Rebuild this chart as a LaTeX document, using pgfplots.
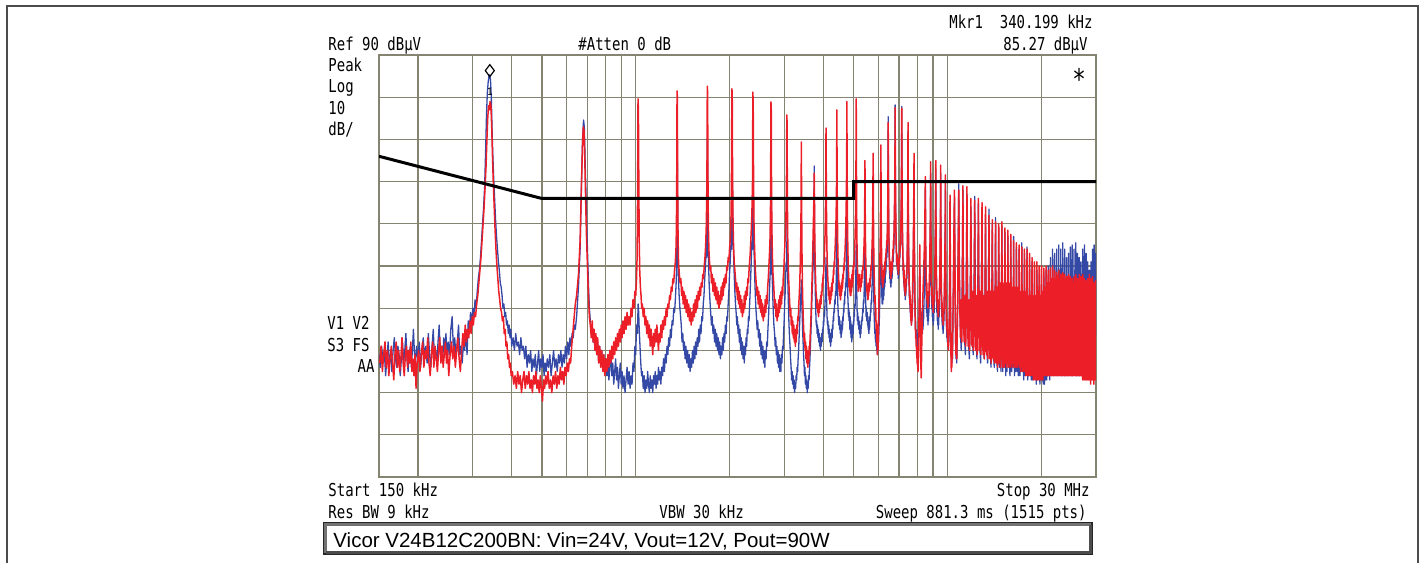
\documentclass[border=0pt]{standalone}
\usepackage{fontspec}
\setmainfont{Liberation Sans}
\setmonofont{DejaVu Sans Mono}
\usepackage{graphicx}
\usepackage{pgfplots}
\pgfplotsset{compat=1.18}

\definecolor{tblue}{RGB}{52,72,165}
\definecolor{tred}{RGB}{236,30,40}
\definecolor{gridc}{RGB}{132,132,112}

% analyzer screen text: narrow mono, stretched a little in height
\newcommand{\sa}[1]{\scalebox{1}[1.27]{\fontsize{7}{8}\selectfont\ttfamily #1}}

\begin{document}
\begin{tikzpicture}
\useasboundingbox (0,0) rectangle (712pt,-281.5pt);

\begin{axis}[
    at={(189.5pt,-27.5pt)}, anchor=north west,
    width=358.5pt, height=211pt, scale only axis,
    xmode=log, xmin=0.15, xmax=30, ymin=-10, ymax=90,
    xtick={0.2,0.3,0.4,0.5,0.6,0.7,0.8,0.9,1,2,3,4,5,6,7,8,9,10,20},
    ytick={0,10,20,30,40,50,60,70,80},
    xticklabels={}, yticklabels={},
    major tick length=0pt,
    grid=major,
    major grid style={gridc, line width=0.6pt},
    axis line style={gridc, line width=0.8pt},
    clip=true]

% trace 2 (blue)
\addplot[tblue, line width=0.65pt, line join=round] coordinates {
(0.1500,19)(0.1515,16)(0.1530,21)(0.1545,17)(0.1560,20)(0.1575,14)(0.1590,18)(0.1605,22)(0.1620,17)(0.1635,19)
(0.1650,15)(0.1665,20)(0.1680,23)(0.1695,18)(0.1710,16)(0.1725,21)(0.1740,19)(0.1755,14)(0.1770,18)(0.1785,22)
(0.1800,17)(0.1815,20)(0.1830,24)(0.1845,18)(0.1860,15)(0.1875,19)(0.1890,21)(0.1905,16)(0.1920,20)(0.1935,25)
(0.1950,19)(0.1965,17)(0.1980,21)(0.2000,18)(0.2020,22)(0.2040,16)(0.2060,20)(0.2080,23)(0.2100,18)(0.2120,21)
(0.2140,17)(0.2160,24)(0.2180,19)(0.2200,16)(0.2220,21)(0.2240,25)(0.2260,18)(0.2280,20)(0.2300,17)(0.2320,22)
(0.2340,26)(0.2360,19)(0.2380,21)(0.2400,17)(0.2420,23)(0.2440,20)(0.2460,24)(0.2480,18)(0.2500,22)(0.2525,19)
(0.2550,25)(0.2575,28)(0.2600,20)(0.2625,23)(0.2650,18)(0.2675,22)(0.2700,26)(0.2725,19)(0.2750,21)(0.2775,17)
(0.2800,22)(0.2825,20)(0.2850,25)(0.2875,19)(0.2900,27)(0.2925,24)(0.2950,29)(0.2975,26)(0.3000,30)
(0.3025,28)(0.3050,32)(0.3075,30)(0.3100,34)(0.3125,37)(0.3150,39)(0.3175,42)(0.3200,46)(0.3225,50)(0.3250,54)
(0.3275,59)(0.3300,68)(0.3320,76)(0.3340,81)(0.3360,83.5)(0.3380,85)(0.3400,85.3)(0.3420,84)(0.3440,80)(0.3460,72)
(0.3480,66)(0.3500,61)(0.3525,56)(0.3550,51)(0.3575,47)(0.3600,44)(0.3625,41)(0.3650,39)(0.3675,36)(0.3700,35)
(0.3725,33)(0.3750,30)(0.3775,31)(0.3800,28)(0.3825,29)(0.3850,26)(0.3875,27)(0.3900,24)(0.3925,26)(0.3950,23)
(0.3975,25)(0.4000,21)
(0.4040,23)(0.4080,20)(0.4120,24)(0.4160,21)(0.4200,22)(0.4240,19)(0.4280,23)(0.4320,20)(0.4360,21)(0.4400,18)
(0.4440,21)(0.4480,16)(0.4520,19)(0.4560,17)(0.4600,20)(0.4640,15)(0.4680,18)(0.4720,16)(0.4760,19)(0.4800,14)
(0.4840,17)(0.4880,20)(0.4920,15)(0.4960,18)(0.5000,16)(0.5040,19)(0.5080,14)(0.5120,17)(0.5160,15)(0.5200,18)
(0.5250,16)(0.5300,19)(0.5350,14)(0.5400,17)(0.5450,20)(0.5500,16)(0.5550,18)(0.5600,15)(0.5650,19)(0.5700,17)
(0.5750,20)(0.5800,16)(0.5850,19)(0.5900,17)(0.5950,21)(0.6000,18)(0.6050,22)(0.6100,19)(0.6150,23)(0.6200,21)
(0.6250,24)(0.6300,23)(0.6350,26)
(0.6400,25)(0.6460,28)(0.6550,35)(0.6630,44)(0.6700,60)(0.6750,70)(0.6800,74.6)(0.6840,73)(0.6880,65)(0.6920,58)
(0.6960,50)(0.7000,44)(0.7050,36)(0.7100,30)(0.7150,27)
(0.7200,24)(0.7250,26)(0.7300,22)(0.7350,24)(0.7400,20)(0.7450,23)(0.7500,19)(0.7550,22)(0.7600,18)(0.7660,21)
(0.7720,17)(0.7780,20)(0.7840,16)(0.7900,19)(0.7960,15)(0.8020,18)(0.8080,14)(0.8140,17)(0.8200,13)(0.8260,16)
(0.8320,19)(0.8380,14)(0.8440,17)(0.8500,12)(0.8560,15)(0.8620,18)(0.8680,13)(0.8740,16)(0.8800,11)(0.8860,14)
(0.8920,17)(0.8980,12)(0.9040,15)(0.9100,11)(0.9170,14)(0.9240,10)(0.9310,13)(0.9380,16)(0.9450,12)(0.9520,15)
(0.9590,11)(0.9660,14)(0.9730,12)(0.9800,17)(0.9870,15)(0.9940,21)(1.0000,19)(1.0060,26)(1.0120,24)(1.0180,31)
(1.0220,29)(1.0260,25)(1.0320,21)(1.0380,17)(1.0440,14)
(1.050,15)(1.057,11)(1.064,14)(1.071,10)(1.078,13)(1.085,11)(1.092,15)(1.099,12)(1.106,10)(1.113,14)
(1.120,11)(1.127,13)(1.134,10)(1.141,14)(1.148,12)(1.155,15)(1.162,11)(1.169,14)(1.176,12)(1.183,16)
(1.190,13)(1.197,15)(1.204,12)(1.212,16)(1.220,14)(1.228,18)(1.236,15)(1.244,19)(1.252,17)(1.260,21)
(1.268,19)(1.276,23)(1.284,21)(1.292,25)(1.300,23)(1.308,27)(1.316,26)(1.324,30)(1.332,29)(1.340,32)
(1.348,36)(1.353,40)(1.356,51)(1.359,68)(1.362,58)(1.365,46)(1.370,38)(1.378,33)(1.386,30)(1.393,28)
(1.400,26)(1.408,22)(1.416,24)(1.424,20)(1.432,22)(1.440,18)(1.449,21)(1.458,17)(1.467,20)(1.476,16)
(1.485,19)(1.494,15)(1.503,18)(1.512,16)(1.521,20)(1.530,17)(1.539,21)(1.548,18)(1.557,22)(1.566,19)
(1.575,23)(1.584,21)(1.593,25)(1.602,22)(1.611,26)(1.620,24)(1.629,28)(1.638,27)(1.647,31)(1.656,33)
(1.665,37)(1.674,40)(1.682,44)(1.689,42)(1.694,55)(1.698,70.3)(1.702,62)(1.706,48)(1.712,41)(1.720,36)
(1.730,32)
(1.740,29)(1.750,26)(1.760,28)(1.770,24)(1.780,26)(1.790,22)(1.800,25)(1.810,21)(1.820,24)(1.830,20)
(1.840,23)(1.850,19)(1.860,22)(1.870,18)(1.880,21)(1.890,19)(1.900,23)(1.910,20)(1.920,24)(1.930,22)
(1.940,26)(1.950,24)(1.960,28)(1.970,27)(1.980,31)(1.990,34)(2.000,38)(2.010,41)(2.020,45)(2.030,44)
(2.036,52)(2.040,64)(2.044,56)(2.050,47)(2.060,43)(2.070,38)(2.080,34)(2.090,31)
(2.100,29)(2.110,26)(2.120,28)(2.130,24)(2.140,26)(2.150,22)(2.160,25)(2.170,20)(2.180,23)(2.190,19)
(2.200,22)(2.210,18)(2.220,21)(2.230,17)(2.240,21)(2.250,19)(2.260,23)(2.270,21)(2.280,25)(2.290,24)
(2.300,28)(2.310,27)(2.320,31)(2.330,34)(2.340,38)(2.350,42)(2.360,46)(2.370,44)(2.376,52)(2.380,65.6)
(2.384,57)(2.390,47)(2.400,42)(2.410,37)(2.420,33)(2.430,30)
(2.440,28)(2.452,25)(2.464,27)(2.476,23)(2.488,25)(2.500,21)(2.512,24)(2.524,19)(2.536,22)(2.548,18)
(2.560,21)(2.572,17)(2.584,20)(2.596,16)(2.608,20)(2.620,18)(2.632,22)(2.644,21)(2.656,25)(2.668,28)
(2.680,32)(2.692,36)(2.704,40)(2.712,38)(2.716,50)(2.720,64)(2.724,56)(2.730,44)(2.740,38)(2.752,33)
(2.764,29)(2.776,26)
(2.790,24)(2.802,21)(2.814,23)(2.826,19)(2.838,21)(2.850,17)(2.862,20)(2.874,16)(2.886,19)(2.898,15)
(2.910,18)(2.922,15)(2.934,19)(2.946,17)(2.958,21)(2.970,20)(2.982,24)(2.994,27)(3.006,31)(3.018,34)
(3.030,38)(3.040,41)(3.050,39)(3.056,46)(3.060,53)(3.064,47)(3.070,40)(3.080,35)(3.092,30)(3.104,26)
(3.116,23)
(3.128,21)(3.140,18)(3.152,16)(3.164,13)(3.176,15)(3.188,12)(3.200,14)(3.212,11)(3.224,13)(3.236,10)
(3.248,12)(3.260,11)(3.272,14)(3.284,13)(3.296,16)(3.308,15)(3.320,18)(3.332,20)(3.344,23)(3.356,26)
(3.368,29)(3.380,32)(3.392,34)(3.400,36.7)(3.408,33)(3.420,29)(3.432,25)(3.444,22)(3.456,19)(3.468,17)
(3.480,14)(3.492,16)(3.504,12)(3.516,14)(3.528,11)(3.540,13)(3.552,10)(3.564,12)(3.576,11)(3.588,14)
(3.600,13)(3.612,16)(3.624,18)(3.636,21)(3.648,24)(3.660,27)(3.672,31)(3.684,34)(3.696,37)(3.708,40)
(3.720,43)(3.730,47)(3.736,55)(3.740,63.7)(3.744,55)(3.750,45)(3.760,38)(3.772,33)(3.784,29)(3.796,26)
(3.808,27)(3.820,24)(3.832,26)(3.844,23)(3.856,25)(3.868,22)(3.880,24)(3.892,21)(3.904,23)(3.916,20)
(3.928,23)(3.940,21)(3.952,24)(3.964,22)(3.976,25)(3.988,24)(4.000,27)(4.012,26)(4.024,29)(4.036,28)
(4.048,31)(4.060,33)(4.070,36)(4.080,42)(4.090,35)(4.100,31)(4.112,28)(4.124,26)
(4.136,27)(4.148,24)(4.160,26)(4.172,23)(4.184,25)(4.196,22)(4.208,24)(4.220,21)(4.232,24)(4.244,22)
(4.256,25)(4.268,23)(4.280,26)(4.292,25)(4.304,28)(4.316,27)(4.328,30)(4.340,29)(4.352,32)(4.364,31)
(4.376,34)(4.388,33)(4.400,37)(4.410,41)(4.416,46)(4.420,52.6)(4.424,47)(4.430,40)(4.440,35)(4.452,31)
(4.464,29)(4.476,27)
(4.488,26)(4.500,28)(4.512,25)(4.524,27)(4.536,24)(4.548,26)(4.560,23)(4.572,26)(4.584,24)(4.596,27)
(4.608,25)(4.620,28)(4.632,27)(4.644,30)(4.656,29)(4.668,32)(4.680,31)(4.692,34)(4.704,33)(4.716,36)
(4.728,35)(4.740,39)(4.750,42)(4.756,48)(4.760,53)(4.764,47)(4.770,41)(4.780,37)(4.792,33)(4.804,31)
(4.816,28)
(4.828,30)(4.840,27)(4.852,29)(4.864,25)(4.876,28)(4.888,24)(4.900,27)(4.912,23)(4.924,26)(4.936,22)
(4.948,25)(4.960,23)(4.972,26)(4.984,24)(4.996,27)(5.008,26)(5.020,29)(5.032,28)(5.044,31)(5.056,30)
(5.068,33)(5.080,36)(5.090,40)(5.100,45)(5.110,39)(5.120,34)(5.132,30)(5.144,27)
(5.156,29)(5.170,26)(5.184,28)(5.198,25)(5.212,27)(5.226,24)(5.240,26)(5.254,23)(5.268,25)(5.282,24)
(5.296,27)(5.310,26)(5.324,28)(5.338,27)(5.352,30)(5.366,29)(5.380,32)(5.394,31)(5.408,34)(5.420,37)
(5.430,42)(5.440,50)(5.450,41)(5.460,35)(5.474,31)(5.488,28)
(5.502,30)(5.516,27)(5.530,29)(5.544,26)(5.558,28)(5.572,25)(5.586,27)(5.600,24)(5.614,27)(5.628,25)
(5.642,28)(5.656,27)(5.670,30)(5.684,29)(5.698,32)(5.712,31)(5.726,34)(5.740,36)(5.752,39)(5.764,44)
(5.772,48)(5.780,52)(5.788,44)(5.798,37)(5.810,32)(5.824,28)
(5.838,26)(5.852,24)(5.866,25)(5.880,22)(5.894,24)(5.908,21)(5.922,23)(5.936,20)(5.950,22)(5.964,19)
(5.978,21)(5.992,20)(6.006,23)(6.020,22)(6.034,25)(6.048,27)(6.062,30)(6.076,33)(6.090,37)(6.100,42)
(6.110,50)(6.120,60)(6.128,50)(6.138,42)(6.150,37)(6.164,33)
(6.178,31)(6.192,34)(6.206,31)(6.220,35)(6.234,32)(6.248,36)(6.262,33)(6.276,37)(6.290,35)(6.304,38)
(6.318,36)(6.332,40)(6.346,38)(6.360,41)(6.374,40)(6.388,43)(6.402,42)(6.416,45)(6.430,48)(6.440,53)
(6.450,63)(6.460,75.4)(6.470,62)(6.480,52)(6.492,46)(6.506,42)
(6.520,40)(6.534,37)(6.548,39)(6.562,36)(6.576,38)(6.590,35)(6.604,37)(6.618,36)(6.632,39)(6.646,37)
(6.660,40)(6.674,39)(6.688,42)(6.702,41)(6.716,44)(6.730,43)(6.744,46)(6.760,50)(6.776,55)(6.790,65)
(6.800,78.2)(6.810,64)(6.822,55)(6.836,49)(6.850,45)
(6.864,43)(6.878,40)(6.892,42)(6.906,39)(6.920,41)(6.934,38)(6.948,40)(6.962,37)(6.976,40)(6.990,38)
(7.004,41)(7.018,40)(7.032,43)(7.046,42)(7.060,45)(7.074,44)(7.088,47)(7.104,51)(7.120,58)(7.130,66)
(7.140,77.8)(7.150,65)(7.162,55)(7.176,48)(7.190,44)
(7.204,41)(7.218,38)(7.232,40)(7.246,36)(7.260,38)(7.274,34)(7.288,36)(7.302,33)(7.316,35)(7.330,32)
(7.344,35)(7.358,33)(7.372,36)(7.386,35)(7.400,38)(7.414,37)(7.428,40)(7.442,44)(7.456,49)(7.468,58)
(7.480,72)(7.490,58)(7.502,48)(7.516,42)(7.530,38)
(7.544,35)(7.558,32)(7.572,34)(7.586,30)(7.600,32)(7.614,28)(7.628,30)(7.642,27)(7.656,29)(7.670,26)
(7.684,28)(7.698,27)(7.712,30)(7.726,29)(7.740,32)(7.754,34)(7.768,37)(7.784,42)(7.800,50)(7.810,56)
(7.820,63)(7.830,52)(7.842,42)(7.856,36)(7.870,31)
(7.884,28)(7.898,25)(7.912,27)(7.926,23)(7.940,25)(7.954,22)(7.968,24)(7.982,21)(7.996,23)(8.010,20)
(8.024,22)(8.038,21)(8.052,24)(8.066,23)(8.080,26)(8.094,25)(8.108,28)(8.122,30)(8.136,33)(8.150,37)
(8.160,40)(8.170,35)(8.184,31)(8.198,28)
(8.212,30)(8.228,27)(8.244,29)(8.260,26)(8.276,28)(8.292,25)(8.308,27)(8.324,24)(8.340,27)(8.356,25)
(8.372,28)(8.388,27)(8.404,30)(8.420,32)(8.436,35)(8.452,38)(8.468,42)(8.484,48)(8.500,58)(8.510,48)
(8.524,40)(8.540,35)
(8.556,32)(8.572,29)(8.588,31)(8.604,28)(8.620,30)(8.636,27)(8.652,29)(8.668,26)(8.684,29)(8.700,27)
(8.716,30)(8.732,29)(8.748,32)(8.764,34)(8.780,37)(8.796,41)(8.812,46)(8.828,53)(8.840,62)(8.850,52)
(8.864,43)(8.880,37)
(8.896,33)(8.912,30)(8.928,32)(8.944,28)(8.960,30)(8.976,27)(8.992,29)(9.008,26)(9.024,29)(9.040,27)
(9.056,30)(9.072,29)(9.088,32)(9.104,35)(9.120,38)(9.136,42)(9.152,47)(9.166,54)(9.180,63)(9.192,52)
(9.206,43)(9.222,37)
(9.238,32)(9.254,29)(9.270,31)(9.286,27)(9.302,29)(9.318,26)(9.334,28)(9.350,25)(9.366,28)(9.382,26)
(9.398,29)(9.414,28)(9.430,31)(9.446,34)(9.462,37)(9.478,41)(9.494,46)(9.508,53)(9.520,62)(9.532,51)
(9.546,42)(9.562,35)
(9.578,31)(9.594,28)(9.610,30)(9.626,26)(9.642,28)(9.658,25)(9.674,27)(9.690,24)(9.706,27)(9.722,25)
(9.738,28)(9.754,27)(9.770,30)(9.786,33)(9.802,37)(9.818,41)(9.834,46)(9.848,52)(9.860,60)(9.872,50)
(9.886,40)(9.902,33)
(9.918,28)(9.934,25)(9.950,27)(9.966,23)(9.982,25)(9.998,22)(10.02,24)(10.04,21)(10.06,23)(10.08,20)
(10.10,23)(10.12,22)(10.14,26)(10.16,31)(10.18,40)(10.20,55)(10.22,42)(10.24,30)(10.26,24)(10.28,20)
(10.30,18)(10.32,21)(10.34,17)(10.36,20)(10.38,18)(10.40,22)(10.42,25)(10.44,30)(10.47,38)(10.50,46)
(10.54,56)(10.57,42)(10.60,30)(10.63,22)(10.66,18)(10.69,21)(10.72,17)(10.75,22)(10.78,28)(10.81,36)
(10.84,45)(10.88,59.5)(10.91,44)
(10.96,32)(11.02,24)(11.08,20)(11.13,27)(11.16,36)
(11.22,58)(11.26,40)(11.31,29)(11.37,22)(11.43,19)(11.47,26)(11.50,37)
(11.56,57)(11.60,39)(11.65,28)(11.71,21)(11.77,18)(11.81,25)(11.85,35)
(11.90,54)(11.94,38)(11.99,27)(12.05,22)(12.11,19)(12.15,27)(12.19,38)
(12.24,56.5)(12.28,40)(12.33,28)(12.39,21)(12.45,18)(12.49,26)(12.53,37)
(12.58,55)(12.62,38)(12.67,27)(12.73,20)(12.79,17)(12.83,25)(12.87,36)
(12.92,53)(12.96,37)(13.01,26)(13.07,20)(13.13,18)(13.17,26)(13.21,35)
(13.26,52)(13.30,36)(13.35,25)(13.41,19)(13.47,17)(13.51,24)(13.55,35)
(13.60,53.5)(13.64,37)(13.69,26)(13.75,19)(13.81,16)(13.85,24)(13.89,34)
(13.94,50)(13.98,35)(14.03,25)(14.09,18)(14.15,16)(14.19,23)(14.23,33)
(14.28,51.5)(14.32,35)(14.37,24)(14.43,17)(14.49,15)(14.53,23)(14.57,32)
(14.62,49)(14.66,28)(14.72,16)(14.79,27)(14.86,15)(14.92,30)
(14.96,49.5)(15.00,29)(15.06,15)(15.13,26)(15.20,16)(15.26,31)
(15.30,48)(15.34,27)(15.40,14)(15.47,28)(15.54,15)(15.60,29)
(15.64,47)(15.68,28)(15.74,16)(15.81,26)(15.88,14)(15.94,30)
(15.98,46)(16.02,27)(16.08,15)(16.15,27)(16.22,16)(16.28,29)
(16.32,47)(16.36,28)(16.42,14)(16.49,26)(16.56,15)(16.62,30)
(16.66,44.5)(16.70,27)(16.76,15)(16.83,25)(16.90,14)(16.96,28)
(17.00,44)(17.04,26)(17.10,14)(17.17,27)(17.24,15)(17.30,29)
(17.34,45.5)(17.38,27)(17.44,15)(17.51,26)(17.58,13)(17.64,28)
(17.68,43)(17.72,26)(17.78,14)(17.85,25)(17.92,15)(17.98,29)
(18.02,44.5)(18.06,27)(18.12,13)(18.19,26)(18.26,14)(18.32,28)
(18.36,42)(18.40,25)(18.46,14)(18.53,27)(18.60,13)(18.66,27)
(18.70,41)(18.74,26)(18.80,13)(18.87,25)(18.94,14)(19.00,28)
(19.04,39)(19.08,25)(19.14,14)(19.21,26)(19.28,12)(19.34,27)
(19.38,39)(19.42,24)(19.48,13)(19.55,25)(19.62,14)(19.68,28)
(19.72,38)(19.76,25)(19.82,12)(19.89,26)(19.96,13)(20.02,27)
(20.06,38)(20.10,24)(20.16,13)(20.23,25)(20.30,12)(20.36,28)
(20.40,38.5)(20.44,25)(20.50,12)(20.57,26)(20.64,13)(20.70,29)
(20.74,39)(20.78,26)(20.84,13)(20.91,27)(20.98,14)(21.04,30)
(21.08,40)(21.12,27)(21.18,14)(21.25,28)(21.32,13)(21.38,31)
(21.42,42)(21.46,28)(21.52,15)(21.59,29)(21.66,14)(21.72,32)
(21.76,44)(21.80,29)(21.86,14)(21.93,30)(22.00,15)(22.06,33)
(22.10,43)(22.14,30)(22.20,15)(22.27,31)(22.34,14)(22.40,32)
(22.44,44)(22.48,31)(22.54,14)(22.61,30)(22.68,15)(22.74,33)
(22.78,45)(22.82,30)(22.88,15)(22.95,31)(23.02,14)(23.08,34)
(23.12,44)(23.16,31)(23.22,14)(23.29,30)(23.36,15)(23.42,33)
(23.46,45.5)(23.50,30)(23.56,15)(23.63,32)(23.70,14)(23.76,33)
(23.80,44)(23.84,31)(23.90,14)(23.97,30)(24.04,15)(24.10,32)
(24.14,42)(24.18,29)(24.24,15)(24.31,30)(24.38,14)(24.44,31)
(24.48,43)(24.52,30)(24.58,14)(24.65,29)(24.72,15)(24.78,32)
(24.82,44.5)(24.86,30)(24.92,15)(24.99,31)(25.06,14)(25.12,33)
(25.16,45)(25.20,31)(25.26,14)(25.33,30)(25.40,15)(25.46,33)
(25.50,44)(25.54,30)(25.60,15)(25.67,31)(25.74,14)(25.80,32)
(25.84,45.5)(25.88,31)(25.94,14)(26.01,30)(26.08,15)(26.14,33)
(26.18,43)(26.22,30)(26.28,15)(26.35,29)(26.42,14)(26.48,31)
(26.52,42)(26.56,29)(26.62,14)(26.69,30)(26.76,15)(26.82,31)
(26.86,41)(26.90,28)(26.96,15)(27.03,29)(27.10,14)(27.16,30)
(27.20,44)(27.24,29)(27.30,14)(27.37,30)(27.44,15)(27.50,32)
(27.54,45)(27.58,30)(27.64,15)(27.71,29)(27.78,14)(27.84,31)
(27.88,43)(27.92,29)(27.98,14)(28.05,30)(28.12,15)(28.18,30)
(28.22,41)(28.26,28)(28.32,15)(28.39,29)(28.46,14)(28.52,30)
(28.56,39)(28.60,28)(28.66,14)(28.73,28)(28.80,15)(28.86,31)
(28.90,41)(28.94,29)(29.00,15)(29.07,30)(29.14,14)(29.20,32)
(29.24,44)(29.28,30)(29.34,14)(29.41,31)(29.48,15)(29.54,33)
(29.58,45)(29.62,31)(29.68,15)(29.75,30)(29.82,14)(29.88,32)
(29.92,43)(29.96,30)(30.00,28)
};

% trace 1 (red)
\addplot[tred, line width=0.75pt, line join=round] coordinates {
(0.1508,17)(0.1523,21)(0.1538,15)(0.1553,19)(0.1568,22)(0.1583,16)(0.1598,20)(0.1613,14)(0.1628,18)(0.1643,21)
(0.1658,17)(0.1673,13)(0.1688,19)(0.1703,22)(0.1718,16)(0.1733,20)(0.1748,15)(0.1763,18)(0.1778,23)(0.1793,17)
(0.1808,14)(0.1823,19)(0.1838,21)(0.1853,16)(0.1868,20)(0.1883,17)(0.1898,22)(0.1913,15)(0.1928,18)(0.1943,14)
(0.1958,19)(0.1973,11)(0.1990,17)(0.2010,20)(0.2030,15)(0.2050,19)(0.2070,22)(0.2090,16)(0.2110,20)(0.2130,18)
(0.2150,23)(0.2170,17)(0.2190,14)(0.2210,19)(0.2230,22)(0.2250,16)(0.2270,21)(0.2290,18)(0.2310,15)(0.2330,20)
(0.2350,23)(0.2370,17)(0.2390,21)(0.2410,16)(0.2430,19)(0.2450,22)(0.2470,17)(0.2490,20)(0.2512,14)(0.2537,19)
(0.2562,22)(0.2587,18)(0.2612,21)(0.2637,16)(0.2662,20)(0.2687,23)(0.2712,18)(0.2737,15)(0.2762,20)(0.2787,24)
(0.2812,21)(0.2837,26)(0.2862,22)(0.2887,25)(0.2912,23)(0.2937,27)(0.2962,24)(0.2987,28)
(0.3012,26)(0.3037,29)(0.3062,28)(0.3087,31)(0.3112,33)(0.3137,36)(0.3162,39)(0.3187,42)(0.3212,46)(0.3237,50)
(0.3262,54)(0.3287,59)(0.3310,64)(0.3330,70)(0.3350,75)(0.3370,78)(0.3390,77)(0.3410,79)(0.3430,78)(0.3450,73)
(0.3470,66)(0.3490,60)(0.3510,55)(0.3535,49)(0.3560,44)(0.3585,40)(0.3610,37)(0.3635,34)(0.3660,32)(0.3685,30)
(0.3710,29)(0.3735,27)(0.3760,28)(0.3785,24)(0.3810,25)(0.3835,21)(0.3860,22)(0.3885,18)(0.3910,19)(0.3935,16)
(0.3960,17)(0.3985,14)
(0.4020,15)(0.4060,12)(0.4100,14)(0.4140,11)(0.4180,15)(0.4220,12)(0.4260,14)(0.4300,10)(0.4340,13)(0.4380,15)
(0.4420,11)(0.4460,14)(0.4500,12)(0.4540,15)(0.4580,11)(0.4620,13)(0.4660,10)(0.4700,14)(0.4740,12)(0.4780,15)
(0.4820,11)(0.4860,13)(0.4900,10)(0.4940,14)(0.4980,11)(0.5020,8)(0.5060,13)(0.5100,11)(0.5140,14)(0.5180,12)
(0.5230,15)(0.5280,11)(0.5330,13)(0.5380,10)(0.5430,14)(0.5480,12)(0.5530,15)(0.5580,11)(0.5630,14)(0.5680,12)
(0.5730,16)(0.5780,13)(0.5830,15)(0.5880,12)(0.5930,16)(0.5980,14)(0.6030,17)(0.6080,15)(0.6130,18)(0.6180,17)
(0.6230,21)(0.6280,24)(0.6330,27)(0.6380,30)
(0.6400,31)(0.6460,33)(0.6550,38)(0.6630,46)(0.6700,60)(0.6750,69)(0.6790,73)(0.6830,72)(0.6870,64)(0.6910,55)
(0.6950,47)(0.7000,40)(0.7050,33)(0.7100,28)
(0.7150,26)(0.7200,23)(0.7250,27)(0.7300,22)(0.7350,25)(0.7400,20)(0.7450,24)(0.7500,19)(0.7550,23)(0.7600,17)
(0.7660,21)(0.7720,16)(0.7780,20)(0.7840,15)(0.7900,19)(0.7960,14)(0.8020,18)(0.8080,15)(0.8140,19)(0.8200,16)
(0.8260,20)(0.8320,17)(0.8380,21)(0.8440,18)(0.8500,22)(0.8560,19)(0.8620,23)(0.8680,20)(0.8740,24)(0.8800,21)
(0.8860,25)(0.8920,22)(0.8980,26)(0.9040,23)(0.9100,27)(0.9170,24)(0.9240,28)(0.9310,25)(0.9380,29)(0.9450,26)
(0.9520,28)(0.9590,26)(0.9660,30)(0.9730,28)(0.9800,32)(0.9870,30)(0.9940,34)(1.0000,33)(1.0060,37)(1.0100,42)
(1.0140,58)(1.0170,79.6)(1.0200,77)(1.0230,60)(1.0260,46)(1.0300,39)(1.0350,35)(1.0400,33)(1.0450,30)
(1.0500,31)(1.0570,28)(1.0640,30)(1.0710,26)(1.0780,28)(1.0850,24)(1.0920,27)(1.0990,23)(1.1060,26)(1.1130,21)
(1.1200,25)(1.1270,22)(1.1340,19)(1.1410,24)(1.1480,21)(1.1550,25)(1.1620,22)(1.1690,26)(1.1760,23)(1.1830,20)
(1.1900,24)(1.1970,22)(1.2040,26)(1.2120,23)(1.2200,27)(1.2280,25)(1.2360,28)(1.2440,26)(1.2520,30)(1.2600,28)
(1.2680,31)(1.2760,30)(1.2840,33)(1.2920,32)(1.3000,35)(1.3080,34)(1.3160,37)(1.3240,36)(1.3320,39)(1.3400,41)
(1.3480,45)(1.3530,55)(1.3570,81.5)(1.3600,80)(1.3630,60)(1.3670,47)(1.3720,41)(1.3800,38)(1.3880,36)
(1.3960,37)(1.4040,33)(1.4120,35)(1.4200,31)(1.4280,34)(1.4360,30)(1.4440,33)(1.4520,29)(1.4610,32)(1.4700,28)
(1.4790,31)(1.4880,27)(1.4970,30)(1.5060,26)(1.5150,29)(1.5240,27)(1.5330,31)(1.5420,28)(1.5510,32)(1.5600,29)
(1.5690,33)(1.5780,30)(1.5870,34)(1.5960,32)(1.6050,35)(1.6140,33)(1.6230,36)(1.6320,35)(1.6410,38)(1.6500,37)
(1.6590,40)(1.6680,42)(1.6770,45)(1.6850,50)(1.6920,60)(1.6970,82.6)(1.7010,81)(1.7050,62)(1.7100,50)(1.7170,44)
(1.7250,41)(1.7330,39)
(1.7410,40)(1.7500,36)(1.7600,38)(1.7700,34)(1.7800,37)(1.7900,33)(1.8000,36)(1.8100,32)(1.8200,35)(1.8300,31)
(1.8400,34)(1.8500,30)(1.8600,33)(1.8700,31)(1.8800,35)(1.8900,32)(1.9000,36)(1.9100,33)(1.9200,37)(1.9300,35)
(1.9400,38)(1.9500,36)(1.9600,40)(1.9700,39)(1.9800,42)(1.9900,41)(2.0000,44)(2.0100,46)(2.0200,50)(2.0280,58)
(2.0350,82)(2.0400,81)(2.0450,63)(2.0520,51)(2.0600,45)(2.0700,41)(2.0800,39)
(2.0900,37)(2.1000,34)(2.1100,36)(2.1200,32)(2.1300,35)(2.1400,31)(2.1500,34)(2.1600,30)(2.1700,33)(2.1800,29)
(2.1900,32)(2.2000,28)(2.2100,31)(2.2200,29)(2.2300,33)(2.2400,30)(2.2500,34)(2.2600,32)(2.2700,35)(2.2800,33)
(2.2900,37)(2.3000,36)(2.3100,39)(2.3200,41)(2.3300,43)(2.3400,46)(2.3500,49)(2.3600,53)(2.3700,60)(2.3760,81.2)
(2.3820,79)(2.3880,62)(2.3950,51)(2.4050,45)(2.4150,41)(2.4250,38)
(2.4350,36)(2.4470,33)(2.4590,35)(2.4710,31)(2.4830,34)(2.4950,30)(2.5070,33)(2.5190,29)(2.5310,32)(2.5430,28)
(2.5550,31)(2.5670,27)(2.5790,30)(2.5910,28)(2.6030,32)(2.6150,29)(2.6270,33)(2.6390,31)(2.6510,35)(2.6630,37)
(2.6750,40)(2.6870,43)(2.6990,47)(2.7080,55)(2.7160,78.9)(2.7220,77)(2.7280,58)(2.7360,48)(2.7460,42)(2.7580,38)
(2.7700,36)
(2.7820,33)(2.7940,30)(2.8060,32)(2.8180,28)(2.8300,31)(2.8420,27)(2.8540,30)(2.8660,28)(2.8780,32)(2.8900,29)
(2.9020,33)(2.9140,30)(2.9260,34)(2.9380,31)(2.9500,35)(2.9620,33)(2.9740,37)(2.9860,39)(2.9980,42)(3.0100,45)
(3.0220,48)(3.0340,52)(3.0450,58)(3.0540,75.8)(3.0600,74)(3.0660,57)(3.0740,47)(3.0840,41)(3.0960,37)(3.1080,34)
(3.1200,31)(3.1320,28)(3.1440,30)(3.1560,26)(3.1680,28)(3.1800,24)(3.1920,27)(3.2040,23)(3.2160,26)(3.2280,22)
(3.2400,25)(3.2520,21)(3.2640,24)(3.2760,22)(3.2880,26)(3.3000,24)(3.3120,28)(3.3240,27)(3.3360,31)(3.3480,33)
(3.3600,36)(3.3720,40)(3.3840,46)(3.3930,54)(3.4000,69.4)(3.4070,55)(3.4150,44)(3.4250,37)(3.4350,32)(3.4470,28)
(3.4590,25)(3.4710,22)(3.4830,24)(3.4950,20)(3.5070,22)(3.5190,18)(3.5310,21)(3.5430,17)(3.5550,20)(3.5670,16)
(3.5790,19)(3.5910,17)(3.6030,21)(3.6150,19)(3.6270,23)(3.6390,25)(3.6510,28)(3.6630,31)(3.6750,35)(3.6870,39)
(3.6990,43)(3.7110,48)(3.7230,53)(3.7330,57)(3.7400,62)(3.7470,55)(3.7550,47)(3.7650,41)(3.7770,37)(3.7890,34)
(3.8010,33)(3.8130,30)(3.8250,32)(3.8370,29)(3.8490,31)(3.8610,28)(3.8730,31)(3.8850,29)(3.8970,32)(3.9090,30)
(3.9210,33)(3.9330,31)(3.9450,34)(3.9570,33)(3.9690,36)(3.9810,35)(3.9930,38)(4.0050,37)(4.0170,40)(4.0290,42)
(4.0410,45)(4.0530,48)(4.0630,53)(4.0730,60)(4.0800,72.7)(4.0870,62)(4.0950,52)(4.1050,45)(4.1170,41)(4.1290,38)
(4.1410,36)(4.1530,33)(4.1650,35)(4.1770,32)(4.1890,34)(4.2010,31)(4.2130,34)(4.2250,32)(4.2370,35)(4.2490,33)
(4.2610,36)(4.2730,34)(4.2850,37)(4.2970,36)(4.3090,39)(4.3210,38)(4.3330,41)(4.3450,40)(4.3570,43)(4.3690,45)
(4.3810,48)(4.3930,51)(4.4030,55)(4.4130,62)(4.4200,77)(4.4270,64)(4.4350,54)(4.4450,47)(4.4570,42)(4.4690,39)
(4.4810,37)(4.4930,34)(4.5050,36)(4.5170,33)(4.5290,35)(4.5410,32)(4.5530,35)(4.5650,33)(4.5770,36)(4.5890,34)
(4.6010,37)(4.6130,35)(4.6250,38)(4.6370,37)(4.6490,40)(4.6610,39)(4.6730,42)(4.6850,41)(4.6970,44)(4.7090,46)
(4.7210,49)(4.7330,53)(4.7430,58)(4.7530,65)(4.7600,79)(4.7670,66)(4.7750,56)(4.7850,48)(4.7970,43)(4.8090,40)
(4.8210,38)(4.8330,35)(4.8450,37)(4.8570,34)(4.8690,36)(4.8810,33)(4.8930,36)(4.9050,33)(4.9170,37)(4.9290,34)
(4.9410,38)(4.9530,35)(4.9650,39)(4.9770,36)(4.9890,40)(5.0010,38)(5.0130,41)(5.0250,40)(5.0370,43)(5.0490,45)
(5.0610,48)(5.0730,52)(5.0830,58)(5.0930,66)(5.1000,79.6)(5.1070,66)(5.1150,55)(5.1250,47)(5.1370,42)(5.1490,39)
(5.1610,37)(5.1750,34)(5.1890,37)(5.2030,35)(5.2170,38)(5.2310,35)(5.2450,37)(5.2590,34)(5.2730,37)(5.2870,35)
(5.3010,38)(5.3150,36)(5.3290,39)(5.3430,37)(5.3570,40)(5.3710,39)(5.3850,42)(5.3990,44)(5.4130,47)(5.4250,52)
(5.4350,58)(5.4400,65)(5.4470,57)(5.4550,49)(5.4650,44)(5.4790,40)
(5.4930,37)(5.5070,34)(5.5210,36)(5.5350,33)(5.5490,35)(5.5630,32)(5.5770,35)(5.5910,33)(5.6050,36)(5.6190,34)
(5.6330,37)(5.6470,35)(5.6610,38)(5.6750,37)(5.6890,40)(5.7030,39)(5.7170,42)(5.7310,44)(5.7450,47)(5.7570,51)
(5.7680,57)(5.7800,66.7)(5.7880,57)(5.7980,48)(5.8100,42)(5.8240,38)
(5.8380,35)(5.8520,31)(5.8660,33)(5.8800,28)(5.8940,30)(5.9080,25)(5.9220,27)(5.9360,22)(5.9500,24)(5.9640,19)
(5.9780,22)(5.9920,20)(6.0060,25)(6.0200,28)(6.0340,32)(6.0480,35)(6.0620,38)(6.0760,42)(6.0900,46)(6.1000,51)
(6.1100,58)(6.1200,68.7)(6.1280,58)(6.1380,49)(6.1500,43)(6.1640,39)
(6.1780,36)(6.1920,38)(6.2060,35)(6.2200,38)(6.2340,36)(6.2480,39)(6.2620,37)(6.2760,40)(6.2900,38)(6.3040,41)
(6.3180,39)(6.3320,42)(6.3460,41)(6.3600,44)(6.3740,43)(6.3880,46)(6.4020,45)(6.4160,48)(6.4300,51)(6.4400,55)
(6.4500,62)(6.4600,74)(6.4700,62)(6.4800,53)(6.4920,47)(6.5060,44)
(6.5200,42)(6.5340,39)(6.5480,41)(6.5620,38)(6.5760,40)(6.5900,37)(6.6040,40)(6.6180,38)(6.6320,41)(6.6460,39)
(6.6600,42)(6.6740,41)(6.6880,44)(6.7020,43)(6.7160,46)(6.7300,45)(6.7440,48)(6.7600,52)(6.7760,57)(6.7900,65)
(6.8000,77.5)(6.8100,64)(6.8220,56)(6.8360,50)(6.8500,46)
(6.8640,44)(6.8780,41)(6.8920,43)(6.9060,40)(6.9200,42)(6.9340,39)(6.9480,41)(6.9620,38)(6.9760,41)(6.9900,39)
(7.0040,42)(7.0180,41)(7.0320,44)(7.0460,43)(7.0600,46)(7.0740,45)(7.0880,48)(7.1040,52)(7.1200,58)(7.1300,66)
(7.1400,77.4)(7.1500,65)(7.1620,56)(7.1760,49)(7.1900,45)
(7.2040,42)(7.2180,39)(7.2320,41)(7.2460,37)(7.2600,39)(7.2740,35)(7.2880,37)(7.3020,34)(7.3160,36)(7.3300,33)
(7.3440,36)(7.3580,34)(7.3720,37)(7.3860,36)(7.4000,39)(7.4140,38)(7.4280,41)(7.4420,45)(7.4560,50)(7.4680,58)
(7.4800,74)(7.4900,59)(7.5020,49)(7.5160,43)(7.5300,39)
(7.5440,36)(7.5580,33)(7.5720,35)(7.5860,31)(7.6000,33)(7.6140,29)(7.6280,31)(7.6420,27)(7.6560,29)(7.6700,26)
(7.6840,28)(7.6980,27)(7.7120,30)(7.7260,32)(7.7400,35)(7.7540,38)(7.7680,42)(7.7840,47)(7.8000,55)(7.8100,60)
(7.8200,66.7)(7.8300,55)(7.8420,45)(7.8560,38)(7.8700,33)(7.8840,29)(7.8980,26)(7.9120,23)(7.9260,25)(7.9400,21)
(7.9540,23)(7.9680,19)(7.9820,21)(7.9960,17)(8.0100,19)(8.0240,16)(8.0380,18)(8.0520,15)(8.0660,17)(8.0800,20)
(8.0940,23)(8.1080,27)(8.1220,31)(8.1360,36)(8.1500,41)(8.1600,45)(8.1700,38)(8.1840,30)(8.1980,24)(8.2120,19)
(8.2280,16)(8.2440,13.5)(8.2600,17)(8.2760,21)(8.2920,24)(8.3080,27)(8.3240,30)(8.3400,32)(8.3560,34)(8.3720,36)
(8.3880,38)(8.4040,40)(8.4200,42)(8.4360,44)(8.4520,47)(8.4680,51)(8.4840,55)(8.5000,61.2)(8.5100,53)(8.5240,45)
(8.5400,40)
(8.5560,37)(8.5720,34)(8.5880,36)(8.6040,32)(8.6200,34)(8.6360,31)(8.6520,33)(8.6680,30)(8.6840,33)(8.7000,31)
(8.7160,34)(8.7320,33)(8.7480,36)(8.7640,38)(8.7800,41)(8.7960,45)(8.8120,49)(8.8280,55)(8.8400,64.7)(8.8500,55)
(8.8640,46)(8.8800,40)
(8.8960,36)(8.9120,33)(8.9280,35)(8.9440,31)(8.9600,33)(8.9760,30)(8.9920,32)(9.0080,29)(9.0240,32)(9.0400,30)
(9.0560,33)(9.0720,32)(9.0880,35)(9.1040,37)(9.1200,40)(9.1360,44)(9.1520,49)(9.1660,55)(9.1800,65)(9.1920,54)
(9.2060,45)(9.2220,39)
(9.2380,35)(9.2540,32)(9.2700,34)(9.2860,30)(9.3020,32)(9.3180,29)(9.3340,31)(9.3500,28)(9.3660,31)(9.3820,29)
(9.3980,32)(9.4140,31)(9.4300,34)(9.4460,36)(9.4620,39)(9.4780,43)(9.4940,48)(9.5080,54)(9.5200,63.9)(9.5320,53)
(9.5460,44)(9.5620,37)
(9.5780,33)(9.5940,30)(9.6100,32)(9.6260,28)(9.6420,30)(9.6580,27)(9.6740,29)(9.6900,26)(9.7060,29)(9.7220,27)
(9.7380,30)(9.7540,29)(9.7700,32)(9.7860,35)(9.8020,38)(9.8180,42)(9.8340,47)(9.8480,53)(9.8600,61.6)(9.8720,51)
(9.8860,41)(9.9020,34)
(9.9180,30)(9.9340,27)(9.9500,29)(9.9660,25)(9.9820,27)(9.9980,23)(10.02,25)(10.04,21)(10.06,23)(10.08,20)
(10.10,24)(10.12,23)(10.14,27)(10.16,33)(10.18,43)(10.20,56.8)(10.22,43)(10.24,30)(10.26,22)(10.28,17)
(10.30,15)(10.32,19)(10.34,16)(10.36,20)(10.38,18)(10.40,23)(10.42,27)(10.44,32)(10.47,40)(10.50,48)
(10.54,58)(10.57,44)(10.60,31)(10.63,23)(10.66,19)(10.69,22)(10.72,18)(10.75,23)(10.78,29)(10.81,37)
(10.84,46)(10.88,58)(10.91,45)
(10.96,31)(11.02,23)(11.08,32)(11.13,22)(11.16,29)
(11.22,59)(11.26,31)(11.32,22)(11.39,33)(11.45,21)(11.50,29)
(11.56,58.8)(11.60,30)(11.66,21)(11.73,32)(11.79,20)(11.85,29)
(11.90,56)(11.94,30)(12.00,21)(12.07,34)(12.13,20)(12.19,28)
(12.24,55.5)(12.28,29)(12.34,20)(12.41,33)(12.47,19)(12.53,28)
(12.58,56)(12.62,30)(12.68,20)(12.75,34)(12.81,19)(12.87,27)
(12.92,55)(12.96,29)(13.02,19)(13.09,33)(13.15,18)(13.21,28)
(13.26,54)(13.30,28)(13.36,19)(13.43,34)(13.49,18)(13.55,27)
(13.60,52)(13.64,29)(13.70,18)(13.77,34)(13.83,17)(13.89,27)
(13.94,51)(13.98,28)(14.04,18)(14.11,34)(14.17,17)(14.23,27)
(14.28,50.5)(14.32,28)(14.38,17)(14.45,35)(14.51,16)(14.57,28)
(14.62,50)(14.66,30)(14.71,17)(14.76,36)(14.81,16)(14.86,34)(14.91,18)
(14.96,50.5)(15.00,31)(15.05,16)(15.10,35)(15.15,17)(15.20,36)(15.25,16)
(15.30,49)(15.34,30)(15.39,17)(15.44,36)(15.49,16)(15.54,34)(15.59,17)
(15.64,48.5)(15.68,29)(15.73,16)(15.78,35)(15.83,17)(15.88,36)(15.93,16)
(15.98,47.5)(16.02,30)(16.07,17)(16.12,34)(16.17,16)(16.22,35)(16.27,17)
(16.32,46)(16.36,29)(16.41,16)(16.46,35)(16.51,17)(16.56,33)(16.61,16)
(16.66,45.5)(16.70,30)(16.75,17)(16.80,34)(16.85,16)(16.90,35)(16.95,17)
(17.00,45)(17.04,29)(17.09,16)(17.14,33)(17.19,15)(17.24,34)(17.29,16)
(17.34,44.5)(17.38,28)(17.43,15)(17.48,34)(17.53,16)(17.58,32)(17.63,15)
(17.68,44)(17.72,29)(17.77,16)(17.82,33)(17.87,14)(17.92,34)(17.97,15)
(18.02,44)(18.06,28)(18.11,14)(18.16,32)(18.21,15)(18.26,33)(18.31,14)
(18.36,43)(18.40,29)(18.45,15)(18.50,33)(18.55,14)(18.60,32)(18.65,15)
(18.70,42)(18.74,28)(18.79,14)(18.84,32)(18.89,13)(18.94,33)(18.99,14)
(19.04,41)(19.08,28)(19.13,13)(19.18,33)(19.23,14)(19.28,32)(19.33,13)
(19.38,41)(19.42,29)(19.47,14)(19.52,32)(19.57,13)(19.62,34)(19.67,14)
(19.72,40)(19.76,28)(19.81,13)(19.86,33)(19.91,14)(19.96,32)(20.01,13)
(20.06,40)(20.10,29)(20.15,14)(20.20,34)(20.25,13)(20.30,33)(20.35,15)
(20.40,39.5)(20.44,30)(20.49,14)(20.54,35)(20.59,15)(20.64,34)(20.69,14)
(20.74,40)(20.78,31)(20.83,15)(20.88,36)(20.93,14)(20.98,35)(21.03,15)
(21.08,39)(21.12,30)(21.17,14)(21.22,36)(21.27,15)(21.32,34)(21.37,14)
(21.42,39.5)(21.46,31)(21.51,15)(21.56,37)(21.61,14)(21.66,35)(21.71,16)
(21.76,40)(21.80,32)(21.85,14)(21.90,36)(21.95,15)(22.00,37)(22.05,14)
(22.10,39)(22.14,31)(22.19,15)(22.24,37)(22.29,14)(22.34,36)(22.39,15)
(22.44,38.5)(22.48,32)(22.53,14)(22.58,36)(22.63,15)(22.68,37)(22.73,14)
(22.78,39)(22.82,31)(22.87,15)(22.92,37)(22.97,14)(23.02,36)(23.07,15)
(23.12,38)(23.16,32)(23.21,14)(23.26,36)(23.31,15)(23.36,37)(23.41,14)
(23.46,38.5)(23.50,31)(23.55,15)(23.60,37)(23.65,14)(23.70,36)(23.75,15)
(23.80,38)(23.84,32)(23.89,14)(23.94,36)(23.99,15)(24.04,37)(24.09,14)
(24.14,37.5)(24.18,31)(24.23,15)(24.28,36)(24.33,14)(24.38,35)(24.43,15)
(24.48,38)(24.52,30)(24.57,14)(24.62,37)(24.67,15)(24.72,36)(24.77,14)
(24.82,37.5)(24.86,31)(24.91,15)(24.96,36)(25.01,14)(25.06,35)(25.11,15)
(25.16,37)(25.20,30)(25.25,14)(25.30,35)(25.35,15)(25.40,36)(25.45,14)
(25.50,37.5)(25.54,31)(25.59,15)(25.64,36)(25.69,14)(25.74,35)(25.79,15)
(25.84,38)(25.88,30)(25.93,14)(25.98,35)(26.03,15)(26.08,36)(26.13,14)
(26.18,37)(26.22,31)(26.27,15)(26.32,36)(26.37,14)(26.42,35)(26.47,15)
(26.52,38)(26.56,30)(26.61,14)(26.66,35)(26.71,15)(26.76,36)(26.81,14)
(26.86,37.5)(26.90,31)(26.95,15)(27.00,36)(27.05,14)(27.10,35)(27.15,13)
(27.20,38)(27.24,30)(27.29,14)(27.34,35)(27.39,13)(27.44,36)(27.49,14)
(27.54,37)(27.58,31)(27.63,13)(27.68,36)(27.73,14)(27.78,35)(27.83,13)
(27.88,36.5)(27.92,30)(27.97,14)(28.02,35)(28.07,13)(28.12,36)(28.17,14)
(28.22,37)(28.26,31)(28.31,13)(28.36,36)(28.41,14)(28.46,35)(28.51,13)
(28.56,38)(28.60,30)(28.65,14)(28.70,35)(28.75,13)(28.80,36)(28.85,12)
(28.90,37)(28.94,31)(28.99,13)(29.04,36)(29.09,14)(29.14,35)(29.19,13)
(29.24,37.5)(29.28,30)(29.33,14)(29.38,35)(29.43,13)(29.48,36)(29.53,12)
(29.58,36)(29.62,31)(29.67,13)(29.72,35)(29.77,14)(29.82,34)(29.87,13)
(29.92,36.5)(29.96,30)(30.00,33)
};

% limit line
\addplot[black, line width=1.5pt] coordinates {
(0.15,66) (0.5,56) (5,56) (5,60) (30,60)
};

% marker 1
\addplot[only marks, mark=diamond, mark size=3pt, black, line width=0.6pt] coordinates {(0.3402,86.3)};
\node[inner sep=0pt, black] at (axis cs:0.3402,81.3) {\fontsize{5}{6}\selectfont\ttfamily 1};
\node[inner sep=0pt, black] at (axis cs:26.5,84.3) {\scalebox{1.6}{\sa{*}}};
\end{axis}

\begin{scope}[x=0.5pt, y=-0.5pt, every node/.style={inner sep=0pt}]
\draw[black!70, line width=0.75pt] (7,563) -- (7,6) -- (1418,6) -- (1418,563);

\node[anchor=base west] at (328,50) {\sa{Ref 90 dBµV}};
\node[anchor=base west] at (578,50) {\sa{\#Atten 0 dB}};
\node[anchor=base east] at (1093,28) {\sa{Mkr1~~340.199 kHz}};
\node[anchor=base east] at (1088,50) {\sa{85.27 dBµV}};
\node[anchor=base west] at (328,71) {\sa{Peak}};
\node[anchor=base west] at (328,92) {\sa{Log}};
\node[anchor=base west] at (328,114) {\sa{10}};
\node[anchor=base west] at (328,135) {\sa{dB/}};
\node[anchor=base west] at (327,329) {\sa{V1 V2}};
\node[anchor=base west] at (327,351) {\sa{S3 FS}};
\node[anchor=base east] at (375,372) {\sa{AA}};
\node[anchor=base west] at (328,496) {\sa{Start 150 kHz}};
\node[anchor=base east] at (1090,496) {\sa{Stop 30 MHz}};
\node[anchor=base west] at (328,518) {\sa{Res BW 9 kHz}};
\node[anchor=base west] at (659,518) {\sa{VBW 30 kHz}};
\node[anchor=base east] at (1087,518) {\sa{Sweep 881.3 ms (1515 pts)}};

\draw[black!85, line width=0.6pt] (324,523) rectangle (1092,554);
\draw[black!55, line width=1.1pt] (325.5,552.5) -- (325.5,524.5) -- (1090.5,524.5);
\draw[black!70, line width=1.1pt] (325.5,552.5) -- (1090.5,552.5) -- (1090.5,524.5);
\node[anchor=base west] at (333,547) {\fontsize{10.25}{12}\selectfont Vicor V24B12C200BN: Vin=24V, Vout=12V, Pout=90W};
\end{scope}
\end{tikzpicture}
\end{document}
